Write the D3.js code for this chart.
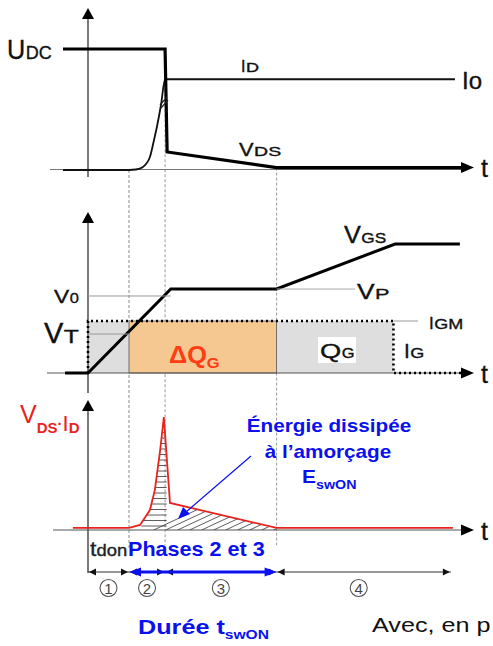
<!DOCTYPE html>
<html>
<head>
<meta charset="utf-8">
<script src="https://cdn.jsdelivr.net/npm/d3@7"></script>
<style>
  body { margin: 0; background: #fff; }
  svg { display: block; font-family: "Liberation Sans", Arial, sans-serif; }
</style>
</head>
<body>
<div id="chart"></div>
<script>
// time marks (abstract units): t0 axis, end of t_don, end of phase 2, end of phase 3
const tMarks = [0, 1, 1.88, 4.6];
const tGateEnd = 7.45;

// top panel: VDS and ID (normalised to UDC = 1)
const vdsTime = [-0.61, 1.88, 1.93, 4.6, 9.2];
const vdsValues = [1, 1, 0.149, 0.02, 0.02];
const idTime = [-0.61, 1.0, 1.17, 1.34, 1.51, 1.61, 1.68, 1.78, 1.88, 8.95];
const idValues = [0, 0, 0.004, 0.025, 0.107, 0.248, 0.355, 0.537, 0.75, 0.75];

// middle panel: VGS and IG
const vgsTime = [-0.56, 0, 2.02, 4.6, 7.49, 9.07];
const vgsValues = [0, 0, 0.651, 0.651, 1, 1];
const levelV0 = 0.597, levelVT = 0.302, levelIGM = 0.403;
const igTime = [0, 0, 7.45, 7.45, 9.15];
const igValues = [0, 0.403, 0.403, 0, 0];

// bottom panel: VDS.ID
const pTime = [-0.37, 1.0, 1.27, 1.51, 1.63, 1.76, 1.85, 2.0, 4.6, 8.9];
const pValues = [0.018, 0.018, 0.044, 0.175, 0.35, 0.70, 0.99, 0.237, 0.018, 0.018];

// phase numbers
const phaseLabels = ["1", "2", "3", "4"];
const phaseBounds = [0, 1, 1.88, 4.6, 8.85];

const W = 493, H = 646;
const svg = d3.select("#chart").append("svg")
    .attr("width", W).attr("height", H);
svg.append("rect").attr("width", W).attr("height", H).attr("fill", "#fff");

let x = d3.scaleLinear().domain([0, 10]).range([88, 498]);
let yTop = d3.scaleLinear().domain([0, 1]).range([170, 49]);
let yMid = d3.scaleLinear().domain([0, 1]).range([373, 244]);
let yBot = d3.scaleLinear().domain([0, 1]).range([530, 416]);

const BLUE = "#0a10ee", RED = "#e8231e";

function arrowHead(g, px, py, dir, len, half, color) {
    // dir: "up", "right", "left"
    let pts;
    if (dir == "up") pts = [[px, py], [px - half, py + len], [px + half, py + len]];
    else if (dir == "right") pts = [[px, py], [px - len, py - half], [px - len, py + half]];
    else pts = [[px, py], [px + len, py - half], [px + len, py + half]];
    g.append("path").attr("d", "M" + pts.join("L") + "Z").attr("fill", color);
}

// pieces placed one after another, each one its own text with a horizontal stretch
function runs(g, px, py, pieces, color, heavy) {
    let cur = px;
    pieces.forEach(p => {
        let sx = p.sx || 1;
        cur += (p.dx || 0);
        let t = g.append("text")
            .attr("transform", "translate(" + cur + "," + (py + (p.dy || 0)) + ") scale(" + sx + ",1)")
            .attr("font-size", p.size)
            .attr("font-weight", p.weight || "normal")
            .attr("fill", color || "#111")
            .text(p.text);
        if (heavy) t.attr("stroke", color || "#111").attr("stroke-width", 0.35);
        cur += t.node().getComputedTextLength() * sx;
    });
    return cur;
}
function label(g, px, py, main, size, sx, sub, subSize, subSx, color) {
    let pieces = [{text: main, size: size, sx: sx}];
    if (sub) pieces.push({text: sub, size: subSize, sx: subSx, dx: 0.5});
    return runs(g, px, py, pieces, color || "#111", true);
}

function vline(px, y1, y2, dash, color) {
    svg.append("line").attr("x1", px).attr("x2", px).attr("y1", y1).attr("y2", y2)
        .attr("stroke", color || "#9a9a9a").attr("stroke-width", 1)
        .attr("stroke-dasharray", dash || null);
}
function hline(y, x1, x2, color, w) {
    svg.append("line").attr("x1", x1).attr("x2", x2).attr("y1", y).attr("y2", y)
        .attr("stroke", color || "#999").attr("stroke-width", w || 1);
}

let lineGen = (xs, ys, ysc) => d3.line().x((d, i) => x(xs[i])).y((d, i) => ysc(ys[i]))(xs);

// ---------- guide lines ----------
vline(x(tMarks[1]), yTop(0), 548, "3,2", "#8a8a8a");
vline(x(tMarks[2]), yTop(0.75), 545, "3,2", "#9a9a9a");
vline(x(tMarks[3]), yTop(0.02), 545, "3,2", "#9a9a9a");

// ---------- top panel ----------
let gTop = svg.append("g");
gTop.append("line").attr("x1", 88).attr("x2", 88).attr("y1", 14).attr("y2", 177).attr("stroke", "#222").attr("stroke-width", 1.2);
arrowHead(gTop, 88, 8, "up", 11, 6, "#000");
gTop.append("line").attr("x1", 50).attr("x2", 462).attr("y1", 169.5).attr("y2", 169.5).attr("stroke", "#777").attr("stroke-width", 1);

gTop.append("path").attr("d", d3.line().curve(d3.curveMonotoneX)
        .x((d, i) => x(idTime[i])).y((d, i) => yTop(idValues[i]))(idTime))
    .attr("fill", "none").attr("stroke", "#111").attr("stroke-width", 1.8);
gTop.append("path").attr("d", lineGen(vdsTime, vdsValues, yTop))
    .attr("fill", "none").attr("stroke", "#000").attr("stroke-width", 3.2);
arrowHead(gTop, 474, yTop(0.02), "right", 13, 5.5, "#000");
// break marks
gTop.append("path").attr("d", "M160,105 L167,97 M161,108 L168,100")
    .attr("stroke", "#222").attr("stroke-width", 1.2);

label(gTop, 7, 59, "U", 28, 0.9, "DC", 19, 0.95);
label(gTop, 241, 72, "I", 16, 1, "D", 12, 1.5);
label(gTop, 462, 89, "Io", 24, 1);
label(gTop, 239, 156, "V", 19, 1.15, "DS", 13, 1.5);
label(gTop, 481, 177, "t", 25, 1);

// ---------- middle panel ----------
let gMid = svg.append("g");
gMid.append("rect").attr("x", x(0)).attr("y", yMid(levelIGM))
    .attr("width", x(tGateEnd) - x(0)).attr("height", yMid(0) - yMid(levelIGM)).attr("fill", "#dedede");
gMid.append("rect").attr("x", x(tMarks[1])).attr("y", yMid(levelIGM))
    .attr("width", x(tMarks[3]) - x(tMarks[1])).attr("height", yMid(0) - yMid(levelIGM))
    .attr("fill", "#f4c890").attr("stroke", "#555").attr("stroke-width", 0.8);
gMid.append("rect").attr("x", 318).attr("y", 337).attr("width", 38).attr("height", 26).attr("fill", "#fff");

gMid.append("line").attr("x1", 88).attr("x2", 88).attr("y1", 218).attr("y2", 393).attr("stroke", "#222").attr("stroke-width", 1.2);
arrowHead(gMid, 88, 212, "up", 11, 6, "#000");
gMid.append("line").attr("x1", 47).attr("x2", 462).attr("y1", 373).attr("y2", 373).attr("stroke", "#555").attr("stroke-width", 1);

hline(yMid(levelV0), 88, x(2.02), "#999");
hline(yMid(levelVT), 88, x(tMarks[1]), "#999");
hline(yMid(0.651), x(tMarks[3]), 355, "#aaa");
hline(yMid(levelIGM), x(tGateEnd), 418, "#999");

gMid.append("path").attr("d", lineGen(igTime, igValues, yMid))
    .attr("fill", "none").attr("stroke", "#000").attr("stroke-width", 2.6)
    .attr("stroke-dasharray", "2,3");
gMid.append("path").attr("d", lineGen(vgsTime, vgsValues, yMid))
    .attr("fill", "none").attr("stroke", "#000").attr("stroke-width", 3);
arrowHead(gMid, 474, 373, "right", 13, 5.5, "#000");

label(gMid, 344, 243, "V", 23, 1.1, "GS", 15, 1.15);
label(gMid, 357, 299, "V", 22, 1.2, "P", 15, 1.45);
label(gMid, 429, 329, "I", 17, 1, "GM", 15, 1.2);
label(gMid, 320, 358, "Q", 21, 1.3, "G", 15, 1.1);
label(gMid, 404, 358, "I", 21, 1, "G", 15, 1.2);
label(gMid, 54, 303, "V", 19, 1.2, "0", 15, 1.1);
label(gMid, 44, 343, "V", 29, 1, "T", 19, 1.3);
label(gMid, 481, 383, "t", 25, 1);
runs(gMid, 169, 363, [
    {text: "\u0394Q", size: 23, sx: 1.1, weight: "bold"},
    {text: "G", size: 15, sx: 1.1, weight: "bold", dy: 5}], "#ff3c14");

// ---------- bottom panel ----------
let gBot = svg.append("g");
gBot.append("line").attr("x1", 88).attr("x2", 88).attr("y1", 406).attr("y2", 573).attr("stroke", "#222").attr("stroke-width", 1.2);
arrowHead(gBot, 88, 400, "up", 11, 6, "#000");
gBot.append("line").attr("x1", 53).attr("x2", 462).attr("y1", 530).attr("y2", 530).attr("stroke", "#555").attr("stroke-width", 1);

// hatched area under VDS.ID between t1 and t3
let hatchIdx = pTime.map((d, i) => i).filter(i => pTime[i] >= tMarks[1] && pTime[i] <= tMarks[3]);
let areaGen = d3.area().x(i => x(pTime[i])).y0(yBot(0)).y1(i => yBot(pValues[i]));
svg.append("clipPath").attr("id", "hclip").append("path").attr("d", areaGen(hatchIdx));
let hatch = gBot.append("g").attr("clip-path", "url(#hclip)");
d3.range(yBot(0) - 4, yBot(1), -5.5).forEach(yy => {
    hatch.append("line").attr("x1", x(1.3)).attr("x2", x(1.92)).attr("y1", yy).attr("y2", yy)
        .attr("stroke", "#333").attr("stroke-width", 0.8);
});
d3.range(x(1.6), x(4.7), 12).forEach(xx => {
    hatch.append("line").attr("x1", xx).attr("x2", xx + 60).attr("y1", yBot(0)).attr("y2", yBot(0) - 28)
        .attr("stroke", "#333").attr("stroke-width", 0.8);
});

gBot.append("path").attr("d", lineGen(pTime, pValues, yBot))
    .attr("fill", "none").attr("stroke", RED).attr("stroke-width", 1.8);
arrowHead(gBot, 474, 530, "right", 13, 5.5, "#000");
label(gBot, 481, 540, "t", 25, 1);

// VDS.ID label
runs(gBot, 20, 423, [
    {text: "V", size: 25, sx: 1},
    {text: "DS", size: 15, weight: "bold", dy: 10, dx: 0},
    {text: "\u00b7", size: 15, weight: "bold", dy: 6},
    {text: "I", size: 22, dy: 8},
    {text: "D", size: 15, weight: "bold", dy: 10}], RED);

// energy annotation
let en = gBot.append("g").attr("fill", BLUE).attr("font-weight", "bold").attr("text-anchor", "middle").attr("font-size", 18);
en.append("text").attr("transform", "translate(329,432) scale(1.15,1)").text("\u00c9nergie dissip\u00e9e");
en.append("text").attr("transform", "translate(328,458) scale(1.15,1)").text("\u00e0 l\u2019amor\u00e7age");
runs(gBot, 302, 483, [
    {text: "E", size: 19, sx: 1.1, weight: "bold"},
    {text: "swON", size: 13, sx: 1.1, weight: "bold", dy: 6}], BLUE);
gBot.append("line").attr("x1", 251).attr("y1", 456).attr("x2", 186).attr("y2", 512)
    .attr("stroke", BLUE).attr("stroke-width", 1.2);
gBot.append("path").attr("d", "M178,519 L183,507 L190,514 Z").attr("fill", BLUE);

// phase bar
let barY = 572;
for (let i = 0; i < 4; i++) {
    let a = x(phaseBounds[i]), b = x(phaseBounds[i + 1]);
    gBot.append("line").attr("x1", a).attr("x2", b).attr("y1", barY).attr("y2", barY)
        .attr("stroke", "#333").attr("stroke-width", 1.2);
    arrowHead(gBot, a + 1, barY, "left", 7, 3.5, "#111");
    arrowHead(gBot, b - 1, barY, "right", 7, 3.5, "#111");
}
gBot.append("line").attr("x1", x(tMarks[1]) + 8).attr("x2", x(tMarks[3]) - 8).attr("y1", barY).attr("y2", barY)
    .attr("stroke", BLUE).attr("stroke-width", 3);
arrowHead(gBot, x(tMarks[1]), barY, "left", 12, 4.5, BLUE);
arrowHead(gBot, x(tMarks[3]), barY, "right", 12, 4.5, BLUE);

for (let i = 0; i < 4; i++) {
    let cx = (x(phaseBounds[i]) + x(phaseBounds[i + 1])) / 2 + (i == 3 ? -5 : 0);
    gBot.append("circle").attr("cx", cx).attr("cy", 588).attr("r", 8.5)
        .attr("fill", "none").attr("stroke", "#555").attr("stroke-width", 1.1);
    gBot.append("text").attr("x", cx).attr("y", 593.5).attr("text-anchor", "middle")
        .attr("font-size", 15).attr("fill", "#444").text(phaseLabels[i]);
}

runs(gBot, 90, 556, [{text: "t", size: 21, sx: 1.1}, {text: "don", size: 16, sx: 1.15}], "#222", true);
runs(gBot, 128, 556, [{text: "Phases 2 et 3", size: 20, sx: 1.08, weight: "bold"}], BLUE);
runs(gBot, 138, 634, [
    {text: "Dur\u00e9e t", size: 21, sx: 1.2, weight: "bold"},
    {text: "swON", size: 13, sx: 1.2, weight: "bold", dy: 5}], BLUE);
runs(gBot, 372, 632, [{text: "Avec, en p", size: 21, sx: 1.2}], "#111");
</script>
</body>
</html>
